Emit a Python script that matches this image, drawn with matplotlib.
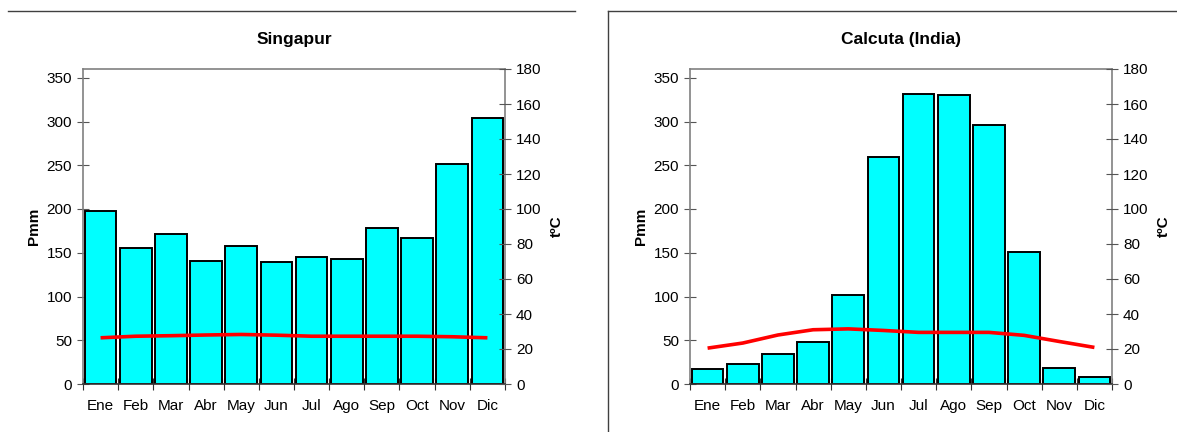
import matplotlib
matplotlib.use("Agg")
import matplotlib.pyplot as plt
from matplotlib.lines import Line2D
import numpy as np

plt.rcParams['font.family'] = ['Liberation Sans', 'DejaVu Sans']

months = ["Ene", "Feb", "Mar", "Abr", "May", "Jun", "Jul", "Ago", "Sep", "Oct", "Nov", "Dic"]

sing_prec = [198, 155, 171, 141, 158, 140, 145, 143, 178, 167, 252, 304]
sing_temp = [26.4, 27.3, 27.6, 28.0, 28.3, 27.9, 27.3, 27.3, 27.3, 27.3, 27.0, 26.4]

calc_prec = [17, 23, 34, 48, 102, 260, 332, 330, 296, 151, 18, 8]
calc_temp = [20.5, 23.4, 28.0, 31.0, 31.5, 30.6, 29.5, 29.5, 29.5, 27.8, 24.3, 20.9]

titles = ["Singapur", "Calcuta (India)"]
prec_ticks = [0, 50, 100, 150, 200, 250, 300, 350]
temp_ticks = [0, 20, 40, 60, 80, 100, 120, 140, 160, 180]

W, H = 1177, 432
fig = plt.figure(figsize=(W / 100, H / 100), dpi=100)

def draw(left_px, prec, temp, title):
    right_px = left_px + 422
    ax = fig.add_axes([left_px / W, 1 - 384 / H, (right_px - left_px) / W, (384 - 69) / H])
    x = np.arange(len(months))
    ax.bar(x, prec, width=0.9, color="#00FFFF", edgecolor="black", linewidth=1.4, zorder=2)
    ax.set_xlim(-0.5, 11.5)
    ax.set_ylim(0, 360)
    ax.set_yticks(prec_ticks)
    ax.set_xticks(np.arange(-0.5, 12, 1))
    ax.set_xticklabels([])
    ax.set_xticks(x, minor=True)
    ax.set_xticklabels(months, minor=True)
    ax.tick_params(axis="x", which="minor", length=0, pad=11, labelsize=11)
    ax.tick_params(axis="x", which="major", direction="inout", length=8, color="#333333")
    ax.tick_params(axis="y", direction="inout", length=8, labelsize=11, color="#555555", pad=4)
    for s in ["left", "right", "top"]:
        ax.spines[s].set_color("#808080")
        ax.spines[s].set_linewidth(1.2)
    ax.spines["bottom"].set_color("#333333")
    ax.spines["bottom"].set_linewidth(1.2)
    ax.set_ylabel("Pmm", fontsize=11, fontweight="bold", labelpad=4)
    ax.set_title(title, fontsize=12.5, fontweight="bold", pad=18)

    ax2 = ax.twinx()
    ax2.plot(x, temp, color="#FF0000", linewidth=2.6, solid_capstyle="butt", zorder=3)
    ax2.set_ylim(0, 180)
    ax2.set_yticks(temp_ticks)
    ax2.tick_params(axis="y", direction="inout", length=8, labelsize=11, color="#555555", pad=4)
    for s in ["left", "right", "top", "bottom"]:
        ax2.spines[s].set_visible(False)
    ax.spines["right"].set_visible(True)
    ax2.set_ylabel("tºC", fontsize=11, fontweight="bold", labelpad=6)
    return ax, ax2

draw(83, sing_prec, sing_temp, titles[0])
draw(690, calc_prec, calc_temp, titles[1])

# panel frames
def fline(x0, y0, x1, y1):
    fig.add_artist(Line2D([x0 / W, x1 / W], [1 - y0 / H, 1 - y1 / H], color="#404040", linewidth=1.0))

fline(8, 11, 575, 11)
fline(608, 11, 1177, 11)
fline(608, 11, 608, 432)

fig.savefig("out.png", dpi=100)
